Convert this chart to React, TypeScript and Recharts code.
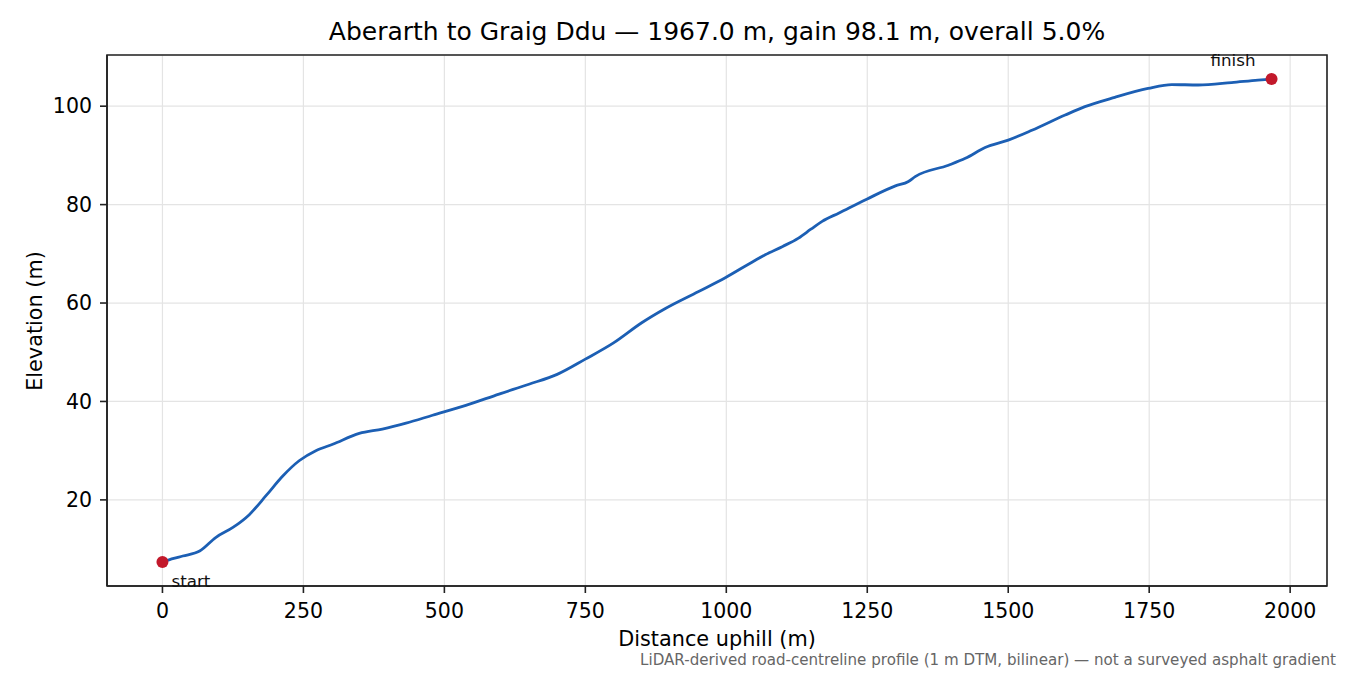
import {
  LineChart,
  Line,
  XAxis,
  YAxis,
  CartesianGrid,
  ReferenceDot,
  ReferenceArea,
} from "recharts";

// distance along the road (m) and elevation (m)
const distance = [
  0, 20, 36, 66, 95, 125, 154, 184, 213, 243, 272, 302, 349, 390, 432,
  479, 538, 597, 650, 700, 750, 800, 850, 892, 950, 999, 1050, 1069, 1100,
  1128, 1150, 1170, 1200, 1249, 1300, 1323, 1335, 1394, 1424, 1459, 1500,
  1542, 1601, 1636, 1689, 1748, 1790, 1837, 1896, 1943, 1967,
];
const elevation = [
  7.4, 8.1, 8.6, 9.6, 12.4, 14.4, 17.0, 20.9, 24.8, 28.0, 30.0, 31.3,
  33.5, 34.4, 35.6, 37.2, 39.2, 41.5, 43.5, 45.5, 48.6, 51.9, 56.0, 58.9,
  62.3, 65.2, 68.6, 69.8, 71.5, 73.2, 75.0, 76.6, 78.3, 81.1, 83.8, 84.7,
  85.7, 88.0, 89.4, 91.6, 93.1, 95.1, 98.2, 99.9, 101.8, 103.6, 104.4, 104.3,
  104.8, 105.3, 105.5,
];
const xTicks = [0, 250, 500, 750, 1000, 1250, 1500, 1750, 2000];
const yTicks = [20, 40, 60, 80, 100];

const xDomain: [number, number] = [-98.35, 2065.35];
const yDomain: [number, number] = [2.5, 110.4];

const FONT = "'DejaVu Sans', sans-serif";
const TICK = { fontSize: 20.5, fill: "#000", fontFamily: FONT };

export default function App() {
  const data = distance.map((d, i) => ({ d, e: elevation[i] }));
  const first = data[0];
  const last = data[data.length - 1];

  return (
    <div
      style={{
        position: "absolute",
        left: 0,
        top: 0,
        width: 1350,
        height: 675,
        background: "#fff",
        fontFamily: FONT,
      }}
    >
      <div
        style={{
          position: "absolute",
          top: 17,
          left: 107,
          width: 1220,
          textAlign: "center",
          fontSize: 25,
          lineHeight: "30px",
          color: "#000",
          whiteSpace: "nowrap",
        }}
      >
        Aberarth to Graig Ddu — 1967.0 m, gain 98.1 m, overall 5.0%
      </div>
      <LineChart
        width={1350}
        height={675}
        data={data}
        margin={{ top: 55, right: 23, bottom: 0, left: 0 }}
        style={{ position: "absolute", left: 0, top: 0 }}
      >
        <CartesianGrid stroke="#e4e4e4" strokeWidth={1.2} />
        <XAxis
          dataKey="d"
          type="number"
          domain={xDomain}
          ticks={xTicks}
          allowDataOverflow
          height={89}
          tickSize={7}
          tickMargin={10}
          tick={TICK}
          tickLine={{ stroke: "#222", strokeWidth: 1.6 }}
          axisLine={{ stroke: "#222", strokeWidth: 1.6 }}
        />
        <YAxis
          type="number"
          domain={yDomain}
          ticks={yTicks}
          allowDataOverflow
          width={107}
          tickSize={7}
          tickMargin={8}
          tick={TICK}
          tickLine={{ stroke: "#222", strokeWidth: 1.6 }}
          axisLine={{ stroke: "#222", strokeWidth: 1.6 }}
        />
        <ReferenceArea
          x1={xDomain[0]}
          x2={xDomain[1]}
          y1={yDomain[0]}
          y2={yDomain[1]}
          fill="none"
          stroke="#222"
          strokeWidth={1.6}
        />
        <Line
          type="monotone"
          dataKey="e"
          stroke="#1c5fb4"
          strokeWidth={2.8}
          dot={false}
          isAnimationActive={false}
        />
        <ReferenceDot
          x={first.d}
          y={first.e}
          r={6}
          fill="#c2192b"
          stroke="none"
          label={(p: any) => (
            <text
              x={p.viewBox.x + 15}
              y={p.viewBox.y + 31}
              fontSize={16.7}
              fontFamily={FONT}
              fill="#111"
            >
              start
            </text>
          )}
        />
        <ReferenceDot
          x={last.d}
          y={last.e}
          r={6}
          fill="#c2192b"
          stroke="none"
          label={(p: any) => (
            <text
              x={p.viewBox.x - 10}
              y={p.viewBox.y - 7}
              fontSize={16.7}
              fontFamily={FONT}
              fill="#111"
              textAnchor="end"
            >
              finish
            </text>
          )}
        />
      </LineChart>
      <div
        style={{
          position: "absolute",
          top: 626,
          left: 107,
          width: 1220,
          textAlign: "center",
          fontSize: 20.8,
          lineHeight: "26px",
          color: "#000",
        }}
      >
        Distance uphill (m)
      </div>
      <div
        style={{
          position: "absolute",
          left: 35,
          top: 321,
          transform: "translate(-50%, -50%) rotate(-90deg)",
          fontSize: 20.8,
          lineHeight: "26px",
          color: "#000",
          whiteSpace: "nowrap",
        }}
      >
        Elevation (m)
      </div>
      <div
        style={{
          position: "absolute",
          top: 651,
          right: 14,
          fontSize: 15.1,
          lineHeight: "18px",
          color: "#666",
          whiteSpace: "nowrap",
        }}
      >
        LiDAR-derived road-centreline profile (1 m DTM, bilinear) — not a
        surveyed asphalt gradient
      </div>
    </div>
  );
}
